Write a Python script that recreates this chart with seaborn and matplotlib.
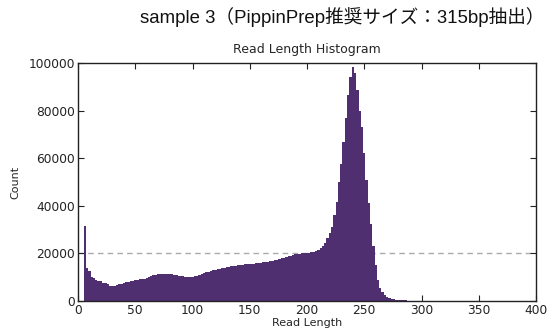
import numpy as np
import pandas as pd
import matplotlib
matplotlib.use("Agg")
import matplotlib.pyplot as plt
import seaborn as sns

# Read length bins (2 bp wide) and counts
bin_start = 5
bin_width = 2
counts = [
    31500, 14000, 12800, 10200, 9600, 9000, 8500, 8200, 7700, 7400,
    7000, 6500, 6300, 6400, 6700, 7000, 7100, 7400, 7800, 8100,
    8400, 8600, 8800, 9000, 9100, 9200, 9300, 9600, 9900, 10300,
    10800, 11100, 11300, 11400, 11500, 11500, 11500, 11400, 11300, 11100,
    10900, 10700, 10500, 10300, 10100, 10000, 10000, 10100, 10300, 10600,
    11000, 11400, 11700, 12000, 12300, 12600, 12900, 13100, 13300, 13500,
    13800, 14000, 14200, 14400, 14600, 14700, 14800, 15000, 15200, 15300,
    15400, 15500, 15500, 15600, 15700, 15800, 15900, 16000, 16200, 16300,
    16500, 16700, 16900, 17100, 17400, 17600, 17900, 18200, 18500, 18800,
    19100, 19300, 19600, 19800, 19900, 20000, 20100, 20200, 20300, 20400,
    20700, 21000, 21500, 22300, 23200, 24500, 26500, 28500, 31000, 36000,
    41500, 50000, 57500, 67000, 77000, 86500, 94000, 98500, 96000, 88500,
    80000, 73000, 62000, 51000, 41000, 32500, 23000, 15000, 8800, 5500,
    3800, 2500, 1700, 1200, 900, 700, 550, 450, 380, 300,
    250, 150,
]
edges = [bin_start + bin_width * i for i in range(len(counts) + 1)]
centers = [e + bin_width / 2 for e in edges[:-1]]
ref_line = 20000

title_main = "sample 3（PippinPrep推奨サイズ：315bp抽出）"
title_ax = "Read Length Histogram"
xlabel = "Read Length"
ylabel = "Count"
xticks = [0, 50, 100, 150, 200, 250, 300, 350, 400]
yticks = [0, 20000, 40000, 60000, 80000, 100000]

sns.set_style("ticks")
plt.rcParams["font.family"] = ["DejaVu Sans"]
plt.rcParams["font.sans-serif"] = ["DejaVu Sans"]

df = pd.DataFrame({"length": centers, "count": counts})

fig = plt.figure(figsize=(5.48, 3.29), dpi=100)
ax = fig.add_axes([78 / 548, 1 - 301 / 329, (536 - 78) / 548, (301 - 63) / 329])

sns.histplot(data=df, x="length", weights="count", bins=edges, ax=ax,
             color="#4f2f70", alpha=1, linewidth=0, element="bars")

ax.axhline(ref_line, color="#aaaaaa", linestyle=(0, (4, 3)), linewidth=1, zorder=0)

ax.set_xlim(0, 400)
ax.set_ylim(0, 100000)
ax.set_xticks(xticks)
ax.set_yticks(yticks)
dv = "DejaVu Sans"
ax.set_xticklabels([str(t) for t in xticks], fontsize=8.8, family=dv)
ax.set_yticklabels([str(t) for t in yticks], fontsize=8.8, family=dv)
ax.tick_params(axis="both", which="both", top=True, right=True, direction="in",
               length=4, width=0.8, pad=2, colors="#222222", labelcolor="#222222")
for s in ax.spines.values():
    s.set_visible(True)
    s.set_linewidth(1.0)
    s.set_color("#222222")

ax.set_xlabel(xlabel, fontsize=8, labelpad=1, family=dv)
ax.set_ylabel(ylabel, fontsize=8, labelpad=6, family=dv)
ax.set_title(title_ax, fontsize=9, pad=7, family=dv)

fig.text(0.624, 0.948, title_main, ha="center", va="center", fontsize=13.4,
         family=["Liberation Sans", "Noto Sans CJK JP"], color="#111111")

fig.savefig("out.png", dpi=100)
